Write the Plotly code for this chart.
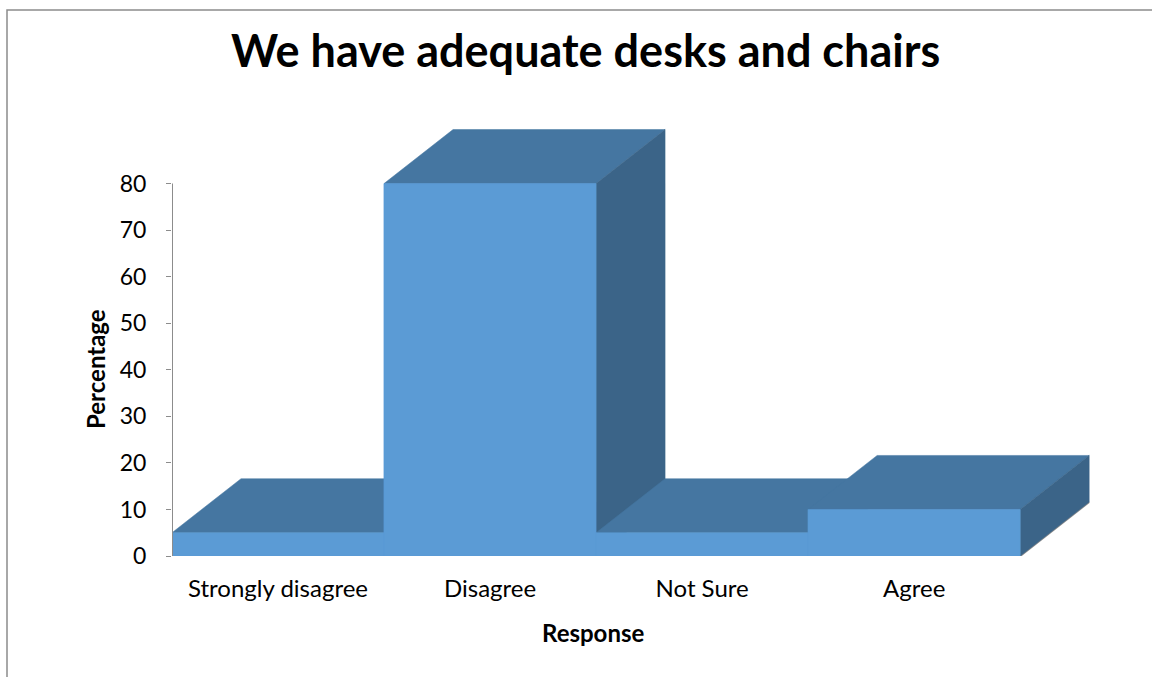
import plotly.graph_objects as go

# Survey responses for "We have adequate desks and chairs"
categories = ["Strongly disagree", "Disagree", "Not Sure", "Agree"]
percentages = [5, 80, 5, 10]
y_ticks = [0, 10, 20, 30, 40, 50, 60, 70, 80]

# Figure geometry (pixels)
W, H = 1152, 677
M_L, M_R, M_T, M_B = 172, 47, 123, 121
X_RANGE = [-0.5, 3.9]
Y_RANGE = [0, 93]
plot_w = W - M_L - M_R
plot_h = H - M_T - M_B
px_per_x = plot_w / (X_RANGE[1] - X_RANGE[0])
px_per_y = plot_h / (Y_RANGE[1] - Y_RANGE[0])

# 3-D depth of each column, expressed in pixels then converted to data units
DEPTH_PX_X, DEPTH_PX_Y = 69, 54
ddx = DEPTH_PX_X / px_per_x
ddy = DEPTH_PX_Y / px_per_y

FRONT = "#5B9BD5"
TOP = "#4576A1"
SIDE = "#3B6488"
FONT = "Lato"

fig = go.Figure()


def face(xs, ys, color):
    fig.add_trace(go.Scatter(
        x=xs + [xs[0]], y=ys + [ys[0]], mode="lines", fill="toself",
        fillcolor=color, line=dict(width=0.5, color=color),
        hoverinfo="skip", showlegend=False))


# floor edge below the columns
x_left = -0.5
x_right = len(categories) - 0.5
fig.add_trace(go.Scatter(
    x=[x_left, x_right, x_right + ddx], y=[0, 0, ddy], mode="lines",
    line=dict(color="#8C8C8C", width=2), hoverinfo="skip", showlegend=False))

# columns drawn left to right: front, top, right side
for i, v in enumerate(percentages):
    x0, x1 = i - 0.5, i + 0.5
    face([x0, x1, x1, x0], [0, 0, v, v], FRONT)
    face([x0, x1, x1 + ddx, x0 + ddx], [v, v, v + ddy, v + ddy], TOP)
    face([x1, x1 + ddx, x1 + ddx, x1], [0, ddy, v + ddy, v], SIDE)

# redraw fronts so later tops never cover an earlier front face
for i, v in enumerate(percentages):
    x0, x1 = i - 0.5, i + 0.5
    face([x0, x1, x1, x0], [0, 0, v, v], FRONT)

# value axis line
fig.add_shape(type="line", xref="x", yref="y", x0=x_left, x1=x_left,
              y0=0, y1=max(y_ticks), line=dict(color="#8C8C8C", width=2))

fig.update_layout(
    width=W, height=H,
    margin=dict(l=M_L, r=M_R, t=M_T, b=M_B),
    paper_bgcolor="white", plot_bgcolor="white",
    showlegend=False,
    font=dict(family=FONT, color="#000000"),
    xaxis=dict(range=X_RANGE, showgrid=False, zeroline=False, showline=False,
               tickvals=list(range(len(categories))), ticktext=categories,
               ticks="", tickfont=dict(size=24, family=FONT),
               ticklabelstandoff=16, fixedrange=True),
    yaxis=dict(range=Y_RANGE, showgrid=False, zeroline=False, showline=False,
               tickvals=y_ticks, ticks="outside", ticklen=5, tickwidth=1,
               tickcolor="#8C8C8C", tickfont=dict(size=23, family=FONT),
               ticklabelstandoff=15, fixedrange=True),
)


def to_paper_x(px):
    return (px - M_L) / plot_w


def to_paper_y(py):
    return (H - M_B - py) / plot_h


def centred_text(text, px, py, size, angle=0):
    fig.add_annotation(text=text, xref="paper", yref="paper",
                       x=to_paper_x(px), y=to_paper_y(py),
                       xanchor="center", yanchor="middle", showarrow=False,
                       textangle=angle, font=dict(size=size, family=FONT))


# chart title and axis titles
centred_text("<b>We have adequate desks and chairs</b>", 585, 50, 45)
centred_text("<b>Response</b>", 593, 632, 24)
centred_text("<b>Percentage</b>", 95, 369, 24, angle=-90)

# chart area border
fig.add_shape(type="rect", xref="paper", yref="paper",
              x0=to_paper_x(7), x1=to_paper_x(1160),
              y0=to_paper_y(690), y1=to_paper_y(10),
              line=dict(color="#8C8C8C", width=1.5), fillcolor="rgba(0,0,0,0)",
              layer="below")

fig.write_html("out.html")
